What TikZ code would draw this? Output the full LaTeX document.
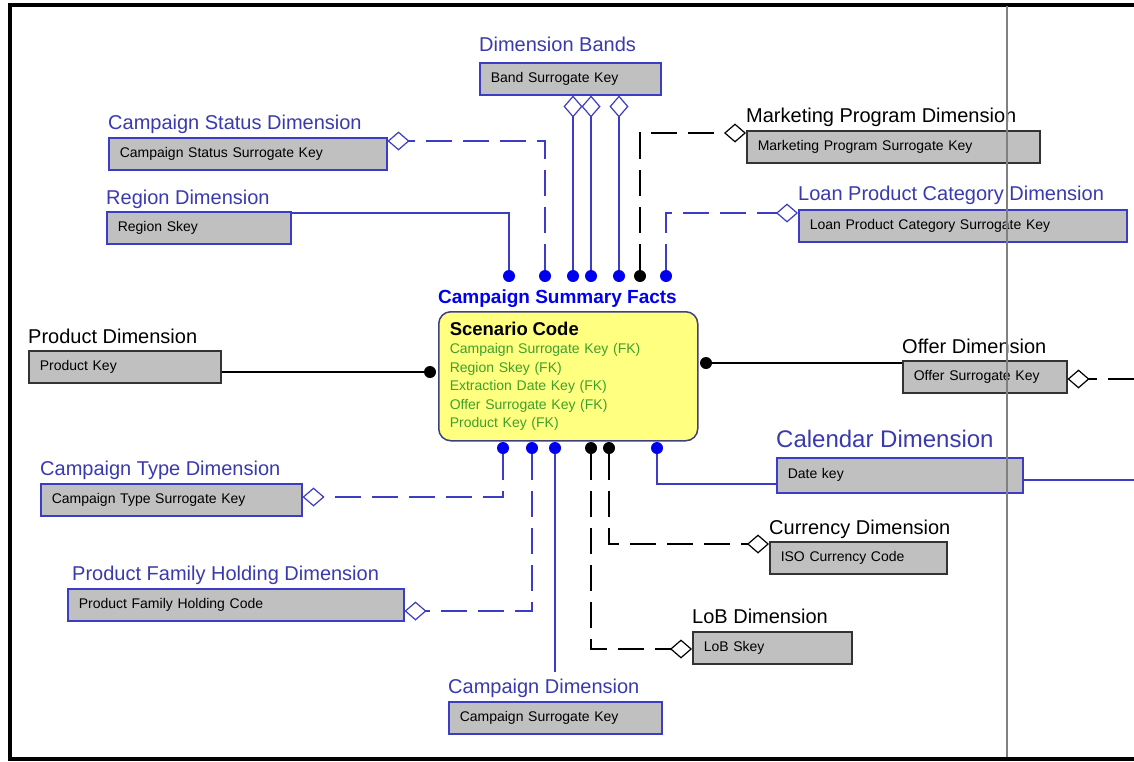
\documentclass[tikz,border=0pt]{standalone}
\usepackage{fontspec}
\setmainfont{Liberation Sans}
\usetikzlibrary{arrows.meta,positioning}

\definecolor{titleblue}{HTML}{3A3AB0}
\definecolor{lineblue}{HTML}{3C3CC4}
\definecolor{dotblue}{HTML}{0000F0}
\definecolor{boxgray}{HTML}{C0C0C0}
\definecolor{boxdark}{HTML}{333333}
\definecolor{factyellow}{HTML}{FFFF80}
\definecolor{factline}{HTML}{404080}
\definecolor{keygreen}{HTML}{3FA02C}

\tikzset{
  title/.style={anchor=base west, inner sep=0pt, text=titleblue,
    font=\fontsize{20}{22}\selectfont},
  blacktitle/.style={title, text=black},
  keybox/.style={draw=lineblue, line width=1.5pt, fill=boxgray, anchor=north west,
    minimum height=32pt, inner xsep=11pt, inner ysep=0pt, align=left,
    font=\fontsize{14}{16}\selectfont},
  blackbox/.style={keybox, draw=boxdark},
  dot/.style={circle, fill=dotblue, inner sep=0pt, minimum size=12pt},
  blackdot/.style={dot, fill=black},
  solidblue/.style={draw=lineblue, line width=1.8pt},
  dashblue/.style={solidblue, dash pattern=on 26pt off 11pt},
  solidblack/.style={draw=black, line width=1.6pt},
  dashblack/.style={solidblack, dash pattern=on 26pt off 11pt},
  opt/.style={-{Diamond[open, fill=white, line width=1.2pt, length=22pt, width=19pt]}},
}

\begin{document}
\begin{tikzpicture}[x=1pt, y=-1pt]
  % page and frame
  \fill[white] (0,0) rectangle (1134,761);
  \useasboundingbox (0,0) rectangle (1134,761);
  \draw[line width=4pt] (1134,4.5) -- (9.5,4.5) -- (9.5,759) -- (1134,759);
  \coordinate (offerout) at (1134,379);
  \coordinate (calout) at (1134,480);

  % fact table
  \node[draw=factline, line width=1.5pt, fill=factyellow, rounded corners=12pt,
    anchor=north west, minimum width=259pt, minimum height=129pt, inner xsep=11pt,
    text width=237pt, align=left, font=\fontsize{14}{18.5}\selectfont]
    (facts) at (438,311)
    {{\fontsize{18.5}{20}\selectfont\bfseries Scenario Code}\\
     \textcolor{keygreen}{Campaign Surrogate Key (FK)}\\
     \textcolor{keygreen}{Region Skey (FK)}\\
     \textcolor{keygreen}{Extraction Date Key (FK)}\\
     \textcolor{keygreen}{Offer Surrogate Key (FK)}\\
     \textcolor{keygreen}{Product Key (FK)}};
  \node[anchor=base west, inner sep=0pt, text=dotblue, font=\fontsize{19}{21}\selectfont\bfseries]
    (factstitle) at (438,303) {Campaign Summary Facts};

  % dimension tables
  \node[keybox, text width=159pt] (bands) at (479,62) {Band Surrogate Key};
  \node[title] (bandstitle) at ([yshift=11pt]bands.north west) {Dimension Bands};
  \node[keybox, text width=256pt] (status) at (108,137) {Campaign Status Surrogate Key};
  \node[title] (statustitle) at ([yshift=8pt]status.north west) {Campaign Status Dimension};
  \node[keybox, text width=162pt] (region) at (106,211) {Region Skey};
  \node[title] (regiontitle) at ([yshift=7pt]region.north west) {Region Dimension};
  \node[blackbox, text width=271pt] (market) at (746,130) {Marketing Program Surrogate Key};
  \node[blacktitle] (markettitle) at ([yshift=8pt]market.north west) {Marketing Program Dimension};
  \node[keybox, text width=306pt] (loan) at (798,209) {Loan Product Category Surrogate Key};
  \node[title] (loantitle) at ([yshift=9pt]loan.north west) {Loan Product Category Dimension};
  \node[blackbox, text width=170pt] (product) at (28,350) {Product Key};
  \node[blacktitle] (producttitle) at ([yshift=7pt]product.north west) {Product Dimension};
  \node[blackbox, text width=142pt] (offer) at (902,360) {Offer Surrogate Key};
  \node[blacktitle] (offertitle) at ([yshift=7pt]offer.north west) {Offer Dimension};
  \node[keybox, text width=224pt, minimum height=35pt] (calendar) at (776,457) {Date key};
  \node[title, font=\fontsize{24}{26}\selectfont] (calendartitle) at ([yshift=10pt]calendar.north west) {Calendar Dimension};
  \node[keybox, text width=239pt] (ctype) at (40,483) {Campaign Type Surrogate Key};
  \node[title] (ctypetitle) at ([yshift=8pt]ctype.north west) {Campaign Type Dimension};
  \node[blackbox, text width=155pt] (currency) at (769,541) {ISO Currency Code};
  \node[blacktitle] (currencytitle) at ([yshift=7pt]currency.north west) {Currency Dimension};
  \node[keybox, text width=314pt] (holding) at (67,588) {Product Family Holding Code};
  \node[title] (holdingtitle) at ([xshift=5pt, yshift=8pt]holding.north west) {Product Family Holding Dimension};
  \node[blackbox, text width=137pt] (lob) at (692,631) {LoB Skey};
  \node[blacktitle] (lobtitle) at ([yshift=8pt]lob.north west) {LoB Dimension};
  \node[keybox, text width=191pt] (campaign) at (448,701) {Campaign Surrogate Key};
  \node[title] (campaigntitle) at ([yshift=8pt]campaign.north west) {Campaign Dimension};

  % relationship ends on the fact table
  \node[dot] (t1) at (509,276) {};
  \node[dot] (t2) at (545,276) {};
  \node[dot] (t3) at (573,276) {};
  \node[dot] (t4) at (591,276) {};
  \node[dot] (t5) at (619,276) {};
  \node[blackdot] (t6) at (640,276) {};
  \node[dot] (t7) at (666,276) {};
  \node[dot] (b1) at (503,448) {};
  \node[dot] (b2) at (532,448) {};
  \node[dot] (b3) at (555,448) {};
  \node[blackdot] (b4) at (591,448) {};
  \node[blackdot] (b5) at (609,448) {};
  \node[dot] (b6) at (657,448) {};
  \node[blackdot] (l1) at (430,372) {};
  \node[blackdot] (r1) at (706,363) {};

  % relationships above
  \draw[solidblue] (t1) |- ([yshift=-2pt]region.north east);
  \draw[dashblue, opt] (t2) |- ([yshift=-4pt]status.north east);
  \draw[solidblue, opt] (t3) -- (t3 |- bands.south);
  \draw[solidblue, opt] (t4) -- (t4 |- bands.south);
  \draw[solidblue, opt] (t5) -- (t5 |- bands.south);
  \draw[dashblack, opt] (t6) |- ([yshift=-3pt]market.north west);
  \draw[dashblue, opt] (t7) |- ([yshift=-4pt]loan.north west);
  % relationships left and right
  \draw[solidblack] (l1) -- (l1 -| product.east);
  \draw[solidblack] (r1) -- (r1 -| offer.west);
  \draw[dashblack, opt] (offerout) -- ([yshift=-19pt]offer.north east);
  \draw[solidblue] (calendar.east |- calout) -- (calout);
  % relationships below
  \draw[dashblue, opt] (b1) |- ([yshift=-14pt]ctype.north east);
  \draw[dashblue, opt] (b2) |- ([yshift=-23pt]holding.north east);
  \draw[solidblue] (b3) -- ([yshift=6pt]b3 |- campaigntitle.north);
  \draw[dashblack, opt] (b4) |- ([yshift=-18pt]lob.north west);
  \draw[dashblack, opt] (b5) |- ([yshift=-3pt]currency.north west);
  \draw[solidblue] (b6) |- ([yshift=-27pt]calendar.north west);

  % page guide over everything
  \draw[gray, line width=1.5pt] (1007,6) -- (1007,757);
\end{tikzpicture}
\end{document}
